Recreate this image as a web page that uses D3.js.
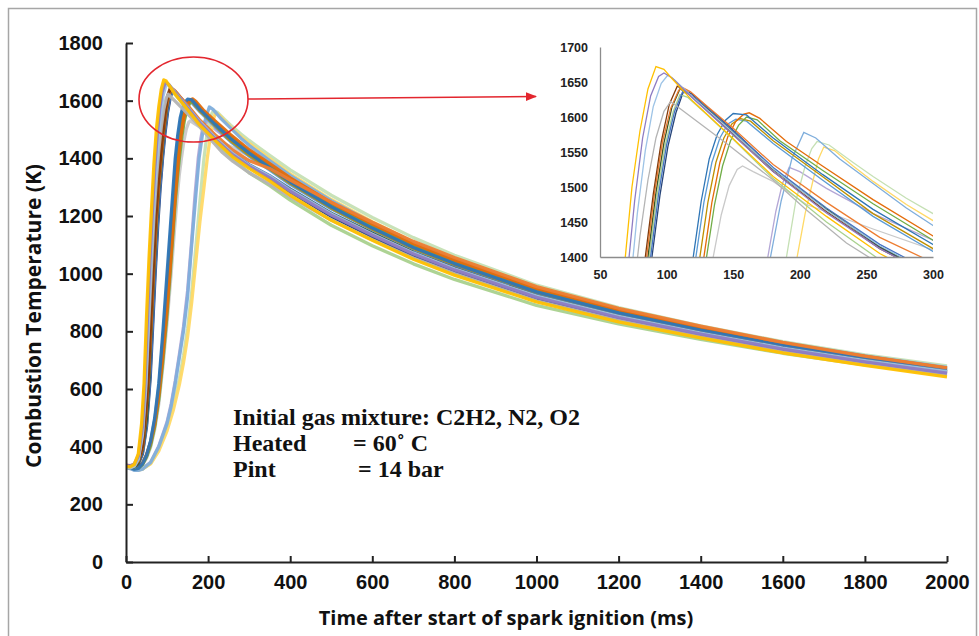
<!DOCTYPE html>
<meta charset="utf-8">
<style>
  body { margin: 0; background: #fff; }
  svg { display: block; font-family: "Open Sans", sans-serif; }
  .main-axis .domain, .main-axis line { stroke: #222; stroke-width: 2; }
  .main-axis text { font-size: 20px; font-weight: bold; fill: #111; }
  .inset-axis .domain { stroke: #8c8c8c; stroke-width: 1.3; }
  .inset-axis line { display: none; }
  .inset-axis text { font-size: 12.5px; font-weight: bold; fill: #222; }
  .note { font-family: "Liberation Serif", "Times New Roman", serif; font-weight: bold; font-size: 24px; fill: #111; }
</style>
<svg width="979" height="636"></svg>
<script src="https://cdnjs.cloudflare.com/ajax/libs/d3/7.8.5/d3.min.js"></script>
<script>
// tick values
var xTicks = [0, 200, 400, 600, 800, 1000, 1200, 1400, 1600, 1800, 2000];
var yTicks = [0, 200, 400, 600, 800, 1000, 1200, 1400, 1600, 1800];
var insetXTicks = [50, 100, 150, 200, 250, 300];
var insetYTicks = [1400, 1450, 1500, 1550, 1600, 1650, 1700];

// each run: [time ms, temperature K]
// earliest ignition (peak ~1660-1672 K)
var runA1 = [[0,332],[10,330],[20,338],[30,375],[38,480],[44,620],[50,850],[56,1050],[62,1220],[68,1380],[74,1500],[80,1580],[86,1640],[92,1672],[98,1668],[104,1655],[120,1622],[145,1578],[180,1515],[220,1458],[260,1405],[300,1365],[350,1322],[400,1272],[500,1185],[600,1116],[700,1050],[800,995],[1000,902],[1200,833],[1400,777],[1600,725],[1800,682],[2000,642]];
var runA2 = [[0,335],[10,333],[20,340],[30,368],[40,470],[46,620],[52,840],[58,1040],[64,1210],[70,1365],[76,1480],[82,1570],[88,1630],[94,1658],[98,1663],[104,1656],[120,1626],[145,1583],[180,1522],[220,1463],[260,1412],[300,1372],[350,1333],[400,1286],[500,1203],[600,1133],[700,1068],[800,1013],[1000,918],[1200,848],[1400,790],[1600,738],[1800,694],[2000,655]];
var runA3 = [[0,330],[10,328],[20,333],[30,360],[40,450],[48,620],[54,830],[60,1030],[66,1200],[72,1345],[78,1462],[84,1552],[90,1615],[96,1648],[101,1660],[106,1653],[120,1628],[145,1586],[180,1526],[220,1467],[260,1416],[300,1376],[350,1338],[400,1290],[500,1207],[600,1137],[700,1072],[800,1017],[1000,922],[1200,852],[1400,794],[1600,742],[1800,698],[2000,660]];
var runA4 = [[0,328],[10,326],[20,332],[30,355],[40,440],[48,600],[55,820],[62,1030],[68,1200],[74,1330],[80,1430],[86,1510],[92,1570],[98,1608],[103,1622],[110,1612],[145,1562],[180,1510],[205,1467],[235,1420],[260,1390],[300,1350],[350,1310],[400,1266],[500,1186],[600,1118],[700,1054],[800,1000],[1000,906],[1200,838],[1400,781],[1600,729],[1800,687],[2000,649]];
// second group (peak ~1640 K)
var runB1 = [[0,335],[10,332],[20,335],[30,352],[40,400],[48,520],[54,640],[60,830],[66,1010],[72,1180],[78,1300],[84,1400],[90,1490],[96,1565],[102,1618],[108,1644],[114,1638],[130,1610],[150,1575],[180,1522],[220,1465],[260,1412],[300,1372],[350,1334],[400,1288],[500,1205],[600,1136],[700,1071],[800,1016],[1000,920],[1200,850],[1400,792],[1600,740],[1800,696],[2000,657]];
var runB2 = [[0,330],[10,328],[20,330],[30,345],[40,390],[50,500],[56,640],[62,830],[68,1010],[74,1170],[80,1300],[86,1400],[92,1492],[98,1563],[104,1614],[110,1640],[116,1634],[130,1612],[150,1578],[180,1525],[220,1468],[260,1415],[300,1375],[350,1337],[400,1291],[500,1208],[600,1139],[700,1073],[800,1018],[1000,922],[1200,852],[1400,794],[1600,742],[1800,698],[2000,659]];
var runB3 = [[0,333],[10,330],[20,330],[30,342],[40,380],[50,480],[58,640],[64,820],[70,1000],[76,1165],[82,1295],[88,1400],[94,1490],[100,1560],[106,1608],[112,1636],[118,1632],[130,1614],[150,1580],[180,1528],[220,1470],[260,1418],[300,1378],[350,1340],[400,1294],[500,1210],[600,1140],[700,1074],[800,1020],[1000,924],[1200,854],[1400,796],[1600,744],[1800,700],[2000,661]];
var runB4 = [[0,336],[10,334],[20,336],[30,350],[40,395],[48,510],[55,650],[61,830],[67,1010],[73,1175],[79,1300],[85,1400],[91,1492],[97,1565],[103,1612],[109,1638],[112,1642],[118,1636],[130,1616],[150,1584],[180,1532],[220,1478],[260,1428],[300,1392],[350,1365],[400,1325],[500,1248],[600,1178],[700,1112],[800,1056],[1000,955],[1200,880],[1400,818],[1600,762],[1800,714],[2000,673]];
var runB5 = [[0,330],[10,327],[20,329],[30,345],[40,388],[50,495],[57,650],[63,830],[69,1010],[75,1170],[81,1300],[87,1400],[93,1490],[99,1560],[105,1608],[110,1632],[116,1628],[130,1604],[150,1568],[180,1512],[220,1450],[260,1396],[300,1350],[350,1305],[400,1255],[500,1168],[600,1097],[700,1034],[800,980],[1000,890],[1200,826],[1400,772],[1600,724],[1800,684],[2000,648]];
var runB6 = [[0,332],[10,330],[20,331],[30,340],[40,375],[50,470],[59,640],[65,820],[71,1000],[77,1160],[83,1295],[89,1400],[95,1488],[101,1558],[107,1606],[113,1638],[119,1633],[130,1615],[150,1581],[180,1527],[220,1468],[260,1414],[300,1372],[350,1332],[400,1284],[500,1199],[600,1128],[700,1062],[800,1007],[1000,912],[1200,843],[1400,786],[1600,735],[1800,692],[2000,653]];
// third group (peak ~1600 K)
var runC1 = [[0,330],[10,326],[20,322],[30,325],[40,340],[50,370],[60,420],[70,500],[80,620],[90,800],[96,920],[102,1040],[108,1160],[114,1280],[120,1400],[126,1480],[132,1540],[138,1575],[144,1595],[150,1605],[160,1603],[180,1570],[217,1518],[255,1468],[300,1418],[350,1368],[400,1318],[500,1232],[600,1158],[700,1091],[800,1035],[1000,937],[1200,864],[1400,804],[1600,751],[1800,706],[2000,666]];
var runC2 = [[0,334],[10,330],[20,326],[30,328],[40,342],[50,372],[60,415],[70,480],[80,580],[90,720],[100,880],[106,990],[112,1110],[118,1230],[123,1320],[128,1400],[134,1478],[140,1535],[146,1572],[152,1594],[158,1604],[162,1606],[170,1598],[190,1565],[217,1530],[255,1482],[300,1430],[350,1382],[400,1332],[500,1246],[600,1172],[700,1104],[800,1047],[1000,948],[1200,874],[1400,813],[1600,759],[1800,713],[2000,672]];
var runC3 = [[0,330],[10,327],[20,324],[30,326],[40,338],[50,365],[60,405],[70,470],[80,565],[90,700],[100,860],[108,1010],[114,1130],[120,1250],[125,1330],[130,1400],[136,1475],[142,1530],[148,1566],[154,1588],[160,1600],[168,1596],[185,1566],[217,1524],[255,1476],[300,1424],[350,1374],[400,1324],[500,1238],[600,1163],[700,1096],[800,1040],[1000,942],[1200,868],[1400,808],[1600,754],[1800,709],[2000,668]];
var runC4 = [[0,331],[10,328],[20,325],[30,327],[40,340],[50,368],[60,412],[70,478],[80,585],[90,740],[98,880],[104,1000],[110,1120],[116,1240],[121,1330],[125,1400],[131,1478],[137,1535],[143,1570],[149,1590],[155,1598],[163,1594],[180,1566],[217,1515],[255,1462],[300,1412],[350,1364],[400,1314],[500,1228],[600,1155],[700,1088],[800,1032],[1000,935],[1200,861],[1400,801],[1600,748],[1800,703],[2000,663]];
var runC5 = [[0,329],[10,326],[20,323],[30,325],[40,339],[50,369],[60,418],[70,492],[80,605],[90,770],[97,900],[103,1020],[109,1140],[115,1260],[119,1335],[122,1400],[128,1478],[134,1535],[140,1570],[146,1590],[152,1597],[160,1594],[180,1562],[217,1510],[255,1458],[300,1408],[350,1360],[400,1310],[500,1225],[600,1152],[700,1086],[800,1030],[1000,933],[1200,860],[1400,800],[1600,747],[1800,702],[2000,662]];
var runC6 = [[0,330],[10,327],[20,324],[30,326],[40,336],[50,360],[60,398],[70,460],[80,550],[90,680],[100,830],[110,1000],[118,1150],[125,1270],[130,1345],[135,1400],[141,1460],[147,1502],[153,1525],[157,1530],[165,1522],[180,1508],[205,1475],[255,1440],[300,1410],[350,1365],[400,1317],[500,1232],[600,1158],[700,1092],[800,1036],[1000,939],[1200,866],[1400,806],[1600,753],[1800,708],[2000,668]];
// latest ignition (peak ~1530-1578 K)
var runD1 = [[0,328],[10,324],[20,318],[30,318],[40,322],[60,345],[80,400],[100,480],[110,540],[120,620],[130,710],[140,800],[150,920],[160,1100],[170,1270],[178,1400],[186,1480],[194,1540],[203,1578],[212,1570],[230,1540],[255,1505],[280,1470],[300,1445],[350,1392],[400,1341],[500,1253],[600,1177],[700,1108],[800,1050],[1000,950],[1200,876],[1400,815],[1600,761],[1800,715],[2000,675]];
var runD2 = [[0,330],[10,325],[20,320],[30,319],[40,322],[60,340],[80,385],[100,455],[115,525],[130,615],[140,690],[150,780],[160,900],[170,1040],[180,1180],[190,1300],[198,1400],[204,1462],[210,1510],[214,1540],[218,1557],[226,1552],[240,1530],[255,1508],[280,1475],[300,1452],[350,1398],[400,1346],[500,1257],[600,1180],[700,1110],[800,1052],[1000,951],[1200,876],[1400,814],[1600,759],[1800,712],[2000,671]];
var runD3 = [[0,331],[10,326],[20,321],[30,320],[40,323],[60,342],[80,392],[100,468],[115,540],[130,635],[140,715],[150,810],[160,935],[170,1090],[180,1250],[190,1400],[197,1480],[204,1530],[209,1555],[213,1565],[222,1560],[240,1535],[255,1515],[280,1484],[300,1462],[350,1410],[400,1360],[500,1272],[600,1195],[700,1125],[800,1064],[1000,960],[1200,882],[1400,819],[1600,764],[1800,718],[2000,680]];
var runD4 = [[0,329],[10,325],[20,319],[30,319],[40,323],[60,346],[80,402],[100,485],[110,548],[120,628],[130,720],[140,815],[150,940],[160,1115],[168,1270],[176,1400],[182,1465],[187,1505],[192,1528],[200,1522],[220,1498],[255,1462],[300,1424],[350,1378],[400,1330],[500,1244],[600,1169],[700,1101],[800,1044],[1000,945],[1200,871],[1400,810],[1600,757],[1800,711],[2000,671]];

var runs = [runD4, runD3, runD2, runD1, runC6, runC5, runC4, runC3, runC2, runC1,
            runB6, runB5, runB3, runB2, runB4, runB1, runA4, runA3, runA2, runA1];
var runColors = ["#b4a7d6", "#c5e0b4", "#ffd966", "#7faedc", "#c9c9c9", "#5b9bd5", "#bf9000", "#70ad47", "#e46c0a", "#2e75b6",
                 "#264478", "#a9d18e", "#4472c4", "#375623", "#ed7d31", "#843c0c", "#b4b4b4", "#9dc3e6", "#8e7cc3", "#ffc000"];

var svg = d3.select("svg");

// outer frame
svg.append("rect")
  .attr("x", 8.5).attr("y", 8.5)
  .attr("width", 968).attr("height", 640)
  .attr("fill", "none").attr("stroke", "#a6a6a6").attr("stroke-width", 1.5);

// main chart
var x = d3.scaleLinear().domain([0, 2000]).range([126, 947]);
var y = d3.scaleLinear().domain([0, 1800]).range([562, 43]);

svg.append("clipPath").attr("id", "clipMain")
  .append("rect").attr("x", 126).attr("y", 30).attr("width", 830).attr("height", 532);

var line = d3.line()
  .x(function(d) { return x(d[0]); })
  .y(function(d) { return y(d[1]); });

svg.append("g").attr("clip-path", "url(#clipMain)")
  .selectAll("path")
  .data(runs)
  .enter().append("path")
  .attr("d", line)
  .attr("fill", "none")
  .attr("stroke", function(d, i) { return runColors[i]; })
  .attr("stroke-width", 3.3)
  .attr("stroke-linejoin", "round")
  .attr("opacity", 0.95);

svg.append("g")
  .attr("class", "main-axis")
  .attr("transform", "translate(0," + y(0) + ")")
  .call(d3.axisBottom(x).tickValues(xTicks).tickFormat(d3.format("d"))
    .tickSizeInner(-6).tickSizeOuter(0).tickPadding(13));

svg.append("g")
  .attr("class", "main-axis")
  .attr("transform", "translate(" + x(0) + ",0)")
  .call(d3.axisLeft(y).tickValues(yTicks).tickFormat(d3.format("d"))
    .tickSizeInner(-7).tickSizeOuter(0).tickPadding(23));

svg.append("text")
  .attr("transform", "translate(41,316) rotate(-90)")
  .attr("text-anchor", "middle")
  .attr("font-size", 21).attr("font-weight", "bold").attr("fill", "#111")
  .text("Combustion Temperature (K)");

svg.append("text")
  .attr("x", 506).attr("y", 625)
  .attr("text-anchor", "middle")
  .attr("font-size", 20).attr("font-weight", "bold").attr("fill", "#111")
  .text("Time after start of spark ignition (ms)");

// notes
var note = svg.append("g").attr("class", "note");
note.append("text").attr("x", 233).attr("y", 425).text("Initial gas mixture: C2H2, N2, O2");
note.append("text").attr("x", 233).attr("y", 451).text("Heated");
note.append("text").attr("x", 353).attr("y", 451).text("= 60\u02da C");
note.append("text").attr("x", 233).attr("y", 477).text("Pint");
note.append("text").attr("x", 358).attr("y", 477).text("= 14 bar");

// zoom marker
svg.append("ellipse")
  .attr("cx", 193.5).attr("cy", 99.5).attr("rx", 54.5).attr("ry", 42.5)
  .attr("fill", "none").attr("stroke", "#e3262e").attr("stroke-width", 1.6);

svg.append("defs").append("marker")
  .attr("id", "arrow").attr("viewBox", "0 0 10 10")
  .attr("refX", 9).attr("refY", 5)
  .attr("markerWidth", 7).attr("markerHeight", 7)
  .attr("orient", "auto")
  .append("path").attr("d", "M0,1L10,5L0,9Z").attr("fill", "#e3262e");

svg.append("line")
  .attr("x1", 248).attr("y1", 99).attr("x2", 536).attr("y2", 96.5)
  .attr("stroke", "#e3262e").attr("stroke-width", 1.6)
  .attr("marker-end", "url(#arrow)");

// inset
var xi = d3.scaleLinear().domain([50, 300]).range([600, 933]);
var yi = d3.scaleLinear().domain([1400, 1700]).range([257, 47]);

svg.append("clipPath").attr("id", "clipInset")
  .append("rect").attr("x", 600).attr("y", 40).attr("width", 333).attr("height", 217);

var insetLine = d3.line()
  .x(function(d) { return xi(d[0]); })
  .y(function(d) { return yi(d[1]); });

svg.append("g").attr("clip-path", "url(#clipInset)")
  .selectAll("path")
  .data(runs)
  .enter().append("path")
  .attr("d", insetLine)
  .attr("fill", "none")
  .attr("stroke", function(d, i) { return runColors[i]; })
  .attr("stroke-width", 1.3);

svg.append("g")
  .attr("class", "inset-axis")
  .attr("transform", "translate(0," + yi(1400) + ")")
  .call(d3.axisBottom(xi).tickValues(insetXTicks).tickFormat(d3.format("d"))
    .tickSize(0).tickPadding(13));

svg.append("g")
  .attr("class", "inset-axis")
  .attr("transform", "translate(" + xi(50) + ",0)")
  .call(d3.axisLeft(yi).tickValues(insetYTicks).tickFormat(d3.format("d"))
    .tickSize(0).tickPadding(12));
</script>
